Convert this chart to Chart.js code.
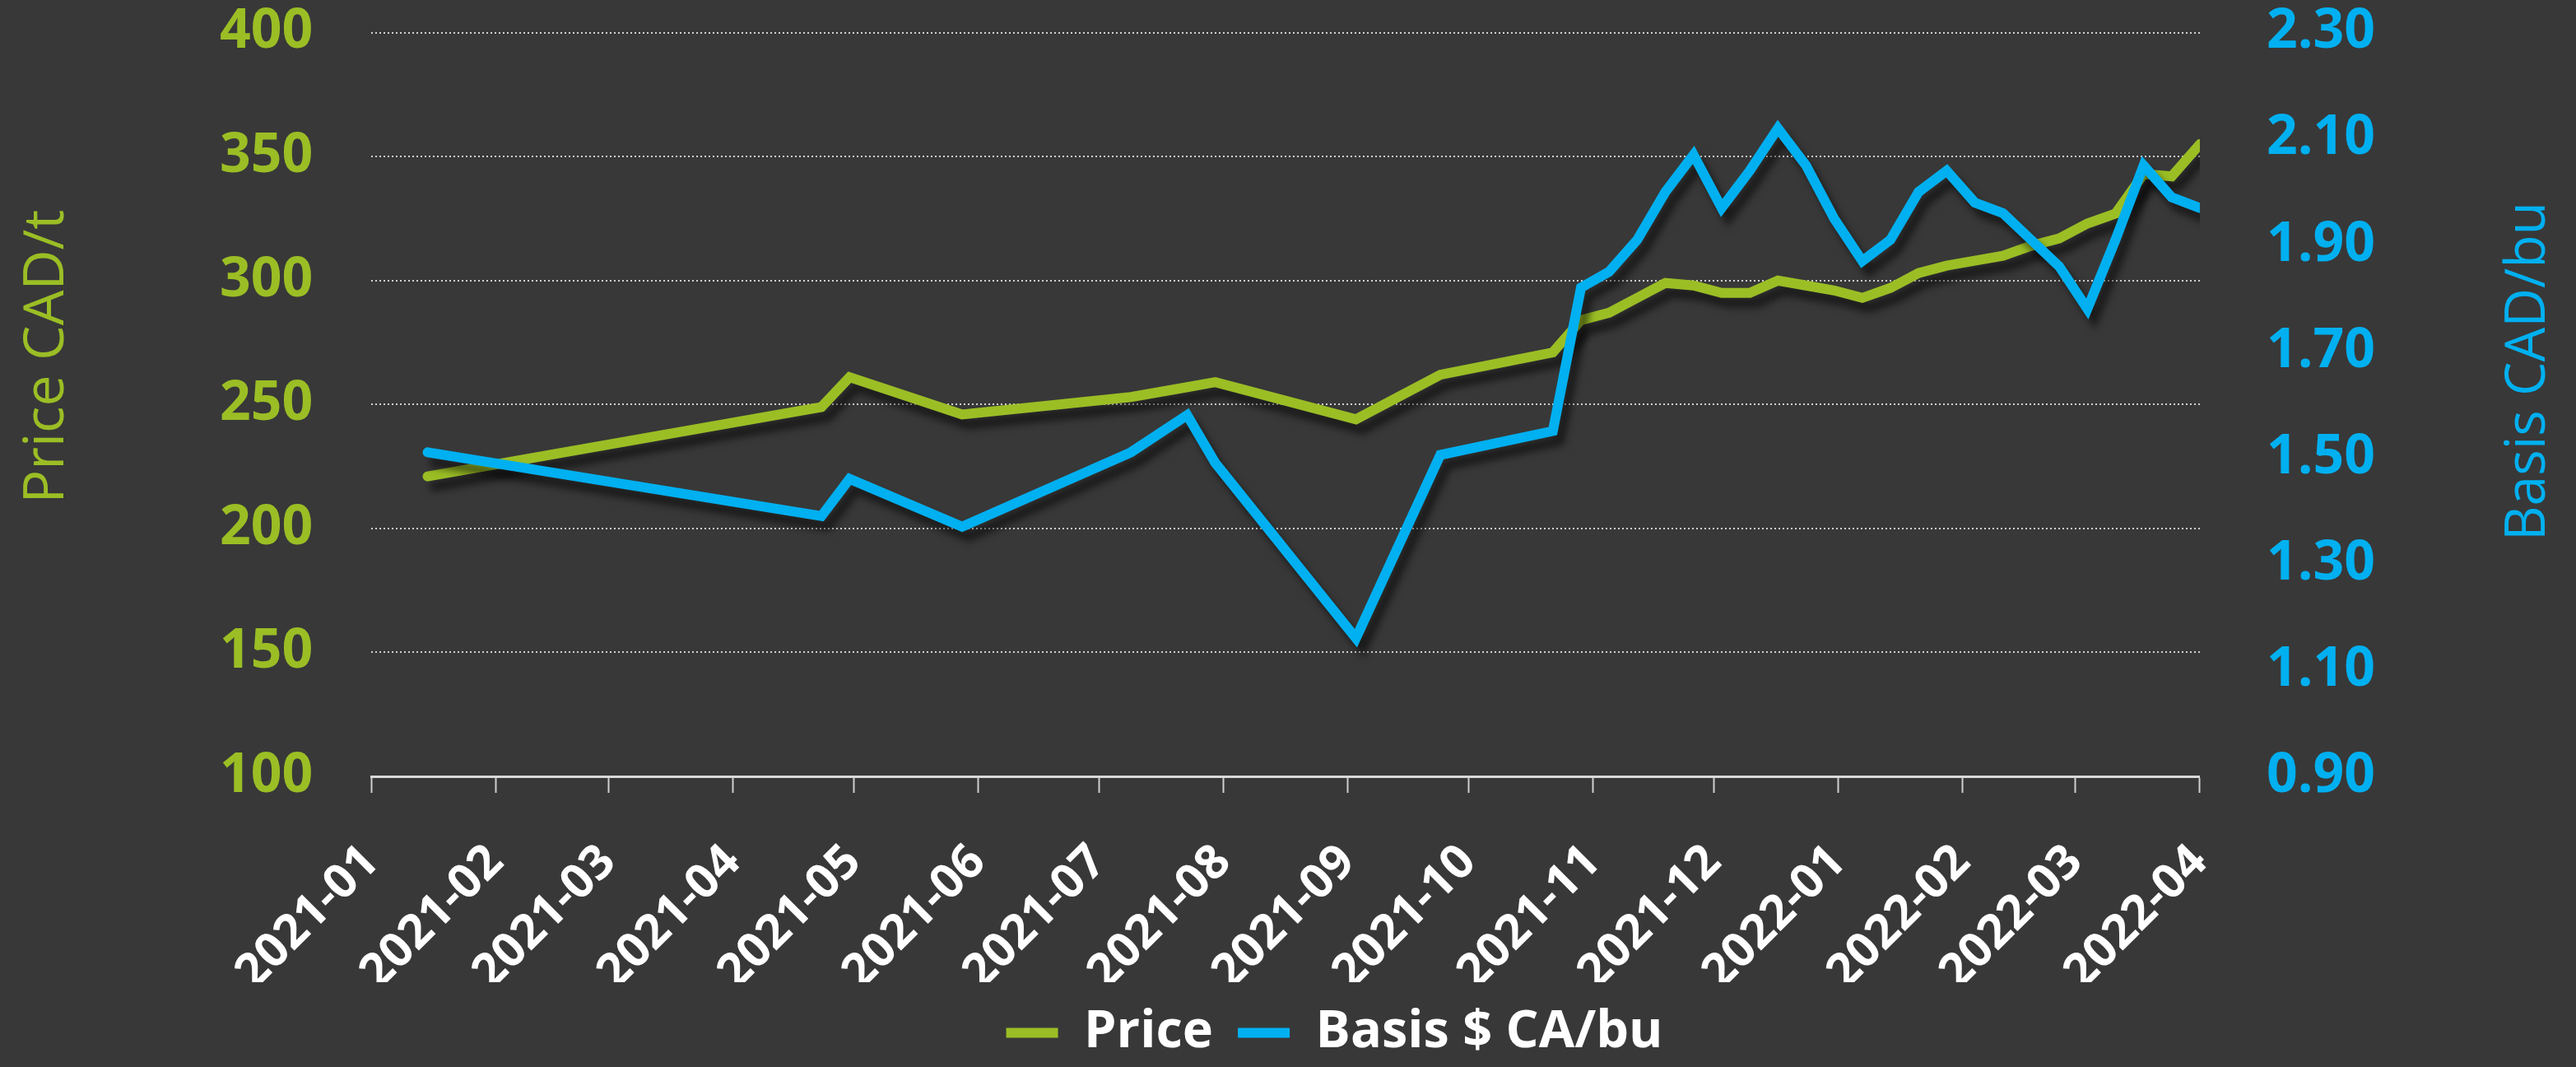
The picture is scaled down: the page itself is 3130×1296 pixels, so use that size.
<!DOCTYPE html>
<html>
<head>
<meta charset="utf-8">
<script src="https://cdn.jsdelivr.net/npm/chart.js@4.4.1/dist/chart.umd.min.js"></script>
<style>
html,body{margin:0;padding:0;background:#383838;}
#wrap{width:3130px;height:1296px;}
</style>
</head>
<body>
<div id="wrap"><canvas id="basisChart"></canvas></div>
<script>
// weekly / irregular observation dates (Fridays)
const dates = [
"2021-01-15","2021-04-23","2021-04-30","2021-05-28","2021-07-09","2021-07-23","2021-07-30",
"2021-09-03","2021-09-24","2021-10-22","2021-10-29","2021-11-05","2021-11-12","2021-11-19",
"2021-11-26","2021-12-03","2021-12-10","2021-12-17","2021-12-24","2021-12-31","2022-01-07",
"2022-01-14","2022-01-21","2022-01-28","2022-02-04","2022-02-11","2022-02-18","2022-02-25",
"2022-03-04","2022-03-11","2022-03-18","2022-03-25","2022-04-01"
];

// Price CAD/t
const price = [
221,249,261,246,253,257,259,
244,262,271,284,287,293,299,
298,295,295,300,298,296,293,
297,303,306,308,310,314,317,
323,327,343,342,355
];

// Basis $ CA/bu
const basis = [
1.51,1.39,1.46,1.37,1.51,1.58,1.49,
1.16,1.505,1.55,1.82,1.85,1.91,2.00,
2.07,1.97,2.04,2.12,2.05,1.95,1.87,
1.91,2.00,2.04,1.98,1.96,1.91,1.86,
1.78,1.91,2.05,1.99,1.97
];

const monthTicks = [
"2021-01","2021-02","2021-03","2021-04","2021-05","2021-06","2021-07","2021-08",
"2021-09","2021-10","2021-11","2021-12","2022-01","2022-02","2022-03","2022-04"
];

const green = "#9BBE25";
const blue = "#00B0F0";

Chart.defaults.font.family = "'Open Sans', sans-serif";

const shadow = {
  id: "shadow",
  beforeDatasetsDraw(chart){
    const ctx = chart.ctx;
    ctx.save();
    ctx.shadowColor = "rgba(0,0,0,0.55)";
    ctx.shadowBlur = 10;
    ctx.shadowOffsetX = 8;
    ctx.shadowOffsetY = 12;
  },
  afterDatasetsDraw(chart){
    chart.ctx.restore();
  }
};

// both axis titles read bottom-to-top, like the original
function sideTitle(ctx, text, color, x, y, len){
  ctx.save();
  ctx.font = "68px 'Open Sans'";
  ctx.textAlign = "center";
  ctx.textBaseline = "middle";
  ctx.fillStyle = color;
  ctx.translate(x, y);
  ctx.rotate(-Math.PI/2);
  ctx.scale(len / ctx.measureText(text).width, 1);
  ctx.fillText(text, 0, 0);
  ctx.restore();
}

const axisTitles = {
  id: "axisTitles",
  afterLayout(chart){
    // legend sits a bit right of centre in the original
    chart.legend.left += 45;
    chart.legend.right += 45;
  },
  afterDraw(chart){
    sideTitle(chart.ctx, "Price CAD/t", green, 58, 433, 357);
    sideTitle(chart.ctx, "Basis CAD/bu", blue, 3073, 451, 412);
  }
};

const xs = dates.map(d => Date.parse(d));

new Chart(document.getElementById("basisChart"), {
  type: "line",
  data: {
    datasets: [
      {
        label: "Price",
        data: xs.map((x,i) => ({x: x, y: price[i]})),
        yAxisID: "y",
        borderColor: green,
        backgroundColor: green,
        borderWidth: 12,
        borderCapStyle: "round",
        pointRadius: 0,
        tension: 0,
        order: 1
      },
      {
        label: "Basis $ CA/bu",
        data: xs.map((x,i) => ({x: x, y: basis[i]})),
        yAxisID: "y1",
        borderColor: blue,
        backgroundColor: blue,
        borderWidth: 12,
        borderCapStyle: "round",
        pointRadius: 0,
        tension: 0,
        order: 0
      }
    ]
  },
  options: {
    responsive: true,
    maintainAspectRatio: false,
    animation: false,
    layout: {padding: {left: 267, right: 244, top: 0, bottom: 0}},
    plugins: {
      tooltip: {enabled: false},
      legend: {
        position: "bottom",
        labels: {
          color: "#ffffff",
          font: {size: 63, weight: "bold"},
          usePointStyle: true,
          pointStyle: "line",
          pointStyleWidth: 63,
          padding: 30,
          sort: (a, b) => a.datasetIndex - b.datasetIndex
        }
      }
    },
    scales: {
      x: {
        type: "linear",
        min: Date.parse(monthTicks[0] + "-01"),
        max: Date.parse(monthTicks[monthTicks.length-1] + "-01"),
        afterBuildTicks(axis){
          axis.ticks = monthTicks.map(m => ({value: Date.parse(m + "-01")}));
        },
        afterFit(axis){
          axis.height = 250;
        },
        grid: {
          drawOnChartArea: false,
          drawTicks: true,
          tickLength: 20,
          tickColor: "#cfcfcf",
          tickWidth: 2
        },
        border: {display: true, color: "#d9d9d9", width: 3},
        ticks: {
          color: "#ffffff",
          font: {size: 58, weight: "bold"},
          minRotation: 45,
          maxRotation: 45,
          autoSkip: false,
          padding: 50,
          callback: (v, i) => monthTicks[i]
        }
      },
      y: {
        position: "left",
        min: 100,
        max: 400,
        grid: {color: "#d0d0d0", lineWidth: 2, drawTicks: true, tickLength: 71, tickColor: "rgba(0,0,0,0)"},
        border: {display: false, dash: [2, 3]},
        ticks: {
          stepSize: 50,
          color: green,
          font: {size: 66, weight: "bold"},
          padding: 0
        }
      },
      y1: {
        position: "right",
        min: 0.9,
        max: 2.3,
        grid: {drawOnChartArea: false, drawTicks: true, tickLength: 81, tickColor: "rgba(0,0,0,0)"},
        border: {display: false},
        ticks: {
          stepSize: 0.2,
          color: blue,
          font: {size: 66, weight: "bold"},
          padding: 0,
          callback: v => Number(v).toFixed(2)
        }
      }
    }
  },
  plugins: [shadow, axisTitles]
});
</script>
</body>
</html>
